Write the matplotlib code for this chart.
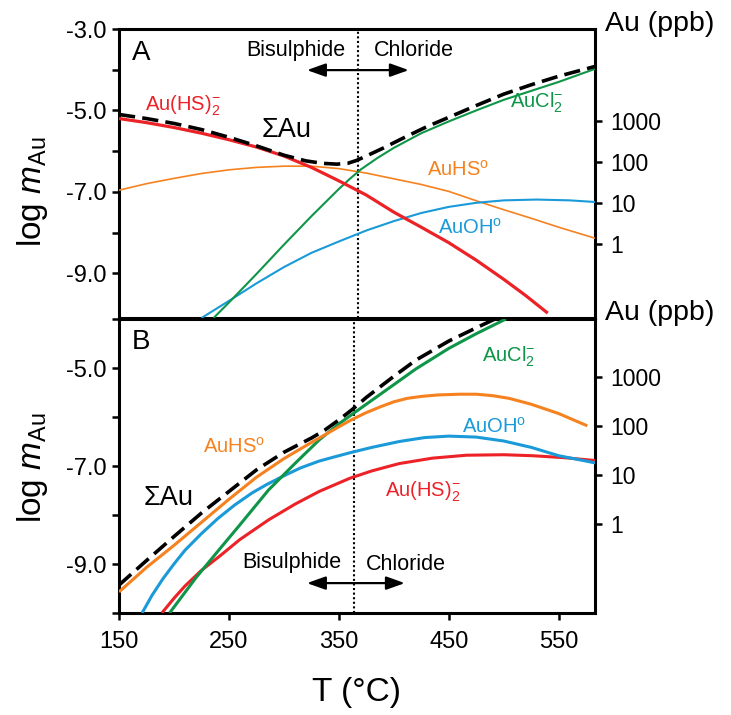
import matplotlib
matplotlib.use("Agg")
import matplotlib.pyplot as plt
import numpy as np

plt.rcParams['font.family'] = ['Liberation Sans', 'DejaVu Sans']
plt.rcParams['mathtext.fontset'] = 'custom'
plt.rcParams['mathtext.rm'] = 'Liberation Sans'
plt.rcParams['mathtext.it'] = 'Liberation Sans:italic'
plt.rcParams['mathtext.bf'] = 'Liberation Sans:bold'

# ---------------- Data ----------------
# Panel A
TA_red = [150, 175, 200, 225, 250, 275, 300, 325, 350, 375, 400, 425, 450, 475, 500, 520, 540]
A_red = [-5.2, -5.3, -5.42, -5.56, -5.72, -5.9, -6.12, -6.4, -6.73, -7.08, -7.5, -7.87, -8.25, -8.68, -9.15, -9.55, -9.98]

TA_orange = [150, 175, 200, 225, 250, 275, 300, 325, 350, 375, 400, 425, 450, 475, 500, 525, 550, 583]
A_orange = [-6.96, -6.8, -6.67, -6.55, -6.46, -6.4, -6.37, -6.37, -6.43, -6.54, -6.68, -6.82, -6.99, -7.22, -7.44, -7.65, -7.87, -8.14]

TA_green = [236, 250, 275, 300, 325, 350, 360, 370, 385, 400, 425, 450, 475, 500, 525, 550, 583]
A_green = [-10.1, -9.72, -9.02, -8.3, -7.6, -6.93, -6.68, -6.45, -6.17, -5.92, -5.56, -5.27, -5.0, -4.74, -4.52, -4.3, -3.98]

TA_blue = [225, 250, 275, 300, 325, 350, 375, 400, 425, 450, 475, 500, 530, 560, 583]
A_blue = [-10.1, -9.68, -9.25, -8.85, -8.5, -8.22, -7.95, -7.72, -7.52, -7.37, -7.27, -7.21, -7.19, -7.21, -7.25]

TA_sum = [150, 175, 200, 225, 250, 275, 300, 320, 335, 348, 358, 366, 375, 390, 410, 430, 450, 475, 500, 525, 550, 583]
A_sum = [-5.1, -5.2, -5.32, -5.47, -5.66, -5.87, -6.1, -6.24, -6.3, -6.32, -6.3, -6.23, -6.12, -5.93, -5.66, -5.4, -5.17, -4.88, -4.6, -4.37, -4.16, -3.92]

# Panel B
TB_orange = [150, 175, 200, 225, 250, 275, 300, 325, 350, 362, 375, 388, 400, 412, 425, 440, 460, 475, 490, 505, 525, 550, 576]
B_orange = [-9.57, -9.07, -8.62, -8.15, -7.68, -7.23, -6.85, -6.52, -6.2, -6.05, -5.91, -5.79, -5.69, -5.62, -5.58, -5.55, -5.535, -5.535, -5.565, -5.62, -5.74, -5.93, -6.18]

TB_sum = [150, 175, 200, 225, 250, 275, 300, 312, 325, 337, 350, 362, 375, 400, 420, 450, 475, 492]
B_sum = [-9.43, -8.93, -8.44, -7.96, -7.52, -7.08, -6.72, -6.58, -6.43, -6.27, -6.06, -5.85, -5.6, -5.17, -4.84, -4.45, -4.18, -4.0]

TB_green = [196, 220, 241, 260, 286, 310, 332, 350, 368, 395, 420, 450, 475, 502]
B_green = [-10.0, -9.28, -8.71, -8.2, -7.49, -6.95, -6.47, -6.14, -5.85, -5.42, -5.02, -4.6, -4.3, -4.0]

TB_blue = [171, 180, 190, 200, 210, 225, 240, 255, 271, 285, 300, 315, 332, 345, 360, 380, 405, 428, 450, 475, 500, 525, 550, 584]
B_blue = [-10.0, -9.64, -9.3, -9.0, -8.72, -8.38, -8.07, -7.8, -7.55, -7.37, -7.2, -7.04, -6.9, -6.82, -6.73, -6.62, -6.5, -6.42, -6.39, -6.41, -6.49, -6.62, -6.79, -6.94]

TB_red = [189, 200, 210, 225, 241, 260, 286, 310, 332, 360, 380, 405, 435, 466, 500, 526, 555, 584]
B_red = [-10.0, -9.7, -9.45, -9.13, -8.85, -8.5, -8.1, -7.78, -7.52, -7.25, -7.1, -6.95, -6.84, -6.78, -6.77, -6.79, -6.83, -6.89]

x_ticks = [150, 250, 350, 450, 550]
ppb_ticks = [1000, 100, 10, 1]
ppb_labels = ['1000', '100', '10', '1']
boundary_A = 367
boundary_B = 363.5

# ---------------- Style ----------------
RED = '#EC2227'
ORANGE = '#F6821F'
GREEN = '#0E9548'
BLUE = '#1A9AD8'
SPW = 2.2

fig = plt.figure(figsize=(7.31, 7.15), dpi=100)
W, H = 731, 715
axA = fig.add_axes([119 / W, 1 - 318 / H, 476 / W, 289 / H])
axB = fig.add_axes([119 / W, 1 - 613 / H, 476 / W, 294 / H])

def style_axes(ax, ylim, yticks, ppb_offset, show_x):
    ax.set_xlim(150, 583)
    ax.set_ylim(*ylim)
    for s in ax.spines.values():
        s.set_linewidth(SPW)
    ax.set_yticks(yticks)
    ax.set_yticklabels([('%.1f' % v) if (int(round(v)) % 2 != 0) else '' for v in yticks])
    ax.tick_params(axis='y', direction='out', length=5, width=1.8, labelsize=17, pad=4)
    if show_x:
        ax.set_xticks(x_ticks)
        ax.set_xticklabels([str(v) for v in x_ticks])
        ax.tick_params(axis='x', direction='out', length=5, width=1.8, labelsize=17, pad=8)
    else:
        ax.set_xticks([])
    tw = ax.twinx()
    tw.set_ylim(*ylim)
    tw.set_yticks([np.log10(v) + ppb_offset for v in ppb_ticks])
    tw.set_yticklabels(ppb_labels)
    tw.tick_params(axis='y', direction='out', length=5, width=1.8, labelsize=16.5, pad=6)
    for s in tw.spines.values():
        s.set_visible(False)

style_axes(axA, (-10.1, -3.0), [-9, -8, -7, -6, -5, -4, -3], -8.27, False)
style_axes(axB, (-10.0, -4.0), [-10, -9, -8, -7, -6, -5, -4], -8.18, True)

kw = dict(solid_joinstyle='round', solid_capstyle='butt')
# Panel A curves
axA.plot(TA_orange, A_orange, color=ORANGE, lw=1.2, zorder=3, **kw)
axA.plot(TA_blue, A_blue, color=BLUE, lw=1.5, zorder=3, **kw)
axA.plot(TA_green, A_green, color=GREEN, lw=1.5, zorder=3, **kw)
axA.plot(TA_red, A_red, color=RED, lw=2.3, zorder=4, **kw)
axA.plot(TA_sum, A_sum, color='k', lw=2.6, dashes=(4.5, 2), zorder=5)
axA.axvline(boundary_A, color='k', lw=1.5, ls=(0, (1, 1.2)), zorder=2)

# Panel B curves
axB.plot(TB_red, B_red, color=RED, lw=2.2, zorder=3, **kw)
axB.plot(TB_blue, B_blue, color=BLUE, lw=2.2, zorder=3, **kw)
axB.plot(TB_green, B_green, color=GREEN, lw=2.2, zorder=4, **kw)
axB.plot(TB_orange, B_orange, color=ORANGE, lw=2.2, zorder=4, **kw)
axB.plot(TB_sum, B_sum, color='k', lw=2.6, dashes=(4.5, 2), zorder=5)
axB.axvline(boundary_B, color='k', lw=1.5, ls=(0, (1, 1.2)), zorder=2)

# Text labels panel A
lab = 14.5
axA.text(170, -3.59, 'A', fontsize=20, ha='center', va='center')
axA.text(311, -3.52, 'Bisulphide', fontsize=15.5, ha='center', va='center')
axA.text(418, -3.52, 'Chloride', fontsize=15.5, ha='center', va='center')
axA.annotate('', xy=(321, -4.01), xytext=(413.6, -4.01),
             arrowprops=dict(arrowstyle='<|-|>,head_length=0.7,head_width=0.25', color='k', lw=1.6,
                             shrinkA=0, shrinkB=0, mutation_scale=16))
axA.text(173.6, -4.99, r'Au(HS)$_\mathregular{2}^\mathregular{-}$', color=RED, fontsize=lab, ha='left', va='baseline')
axA.text(280, -5.66, 'ΣAu', color='k', fontsize=19.5, ha='left', va='baseline')
axA.text(505.5, -4.92, r'AuCl$_\mathregular{2}^\mathregular{-}$', color=GREEN, fontsize=lab, ha='left', va='baseline')
axA.text(430, -6.61, r'AuHS$^\mathregular{o}$', color=ORANGE, fontsize=lab, ha='left', va='baseline')
axA.text(440, -8.02, r'AuOH$^\mathregular{o}$', color=BLUE, fontsize=lab, ha='left', va='baseline')

# Text labels panel B
axB.text(170, -4.47, 'B', fontsize=20, ha='center', va='center')
axB.text(480, -4.86, r'AuCl$_\mathregular{2}^\mathregular{-}$', color=GREEN, fontsize=lab, ha='left', va='baseline')
axB.text(226, -6.73, r'AuHS$^\mathregular{o}$', color=ORANGE, fontsize=lab, ha='left', va='baseline')
axB.text(172, -7.8, 'ΣAu', color='k', fontsize=19.5, ha='left', va='baseline')
axB.text(462, -6.33, r'AuOH$^\mathregular{o}$', color=BLUE, fontsize=lab, ha='left', va='baseline')
axB.text(392, -7.63, r'Au(HS)$_\mathregular{2}^\mathregular{-}$', color=RED, fontsize=lab, ha='left', va='baseline')
axB.text(307, -8.96, 'Bisulphide', fontsize=15.5, ha='center', va='center')
axB.text(411, -9.02, 'Chloride', fontsize=15.5, ha='center', va='center')
axB.annotate('', xy=(321, -9.39), xytext=(410, -9.39),
             arrowprops=dict(arrowstyle='<|-|>,head_length=0.7,head_width=0.25', color='k', lw=1.6,
                             shrinkA=0, shrinkB=0, mutation_scale=16))

# Axis labels
ylab = r'log $\mathit{m}_\mathregular{Au}$'
fig.text(33 / W, 1 - 192 / H, ylab, rotation=90, fontsize=24, ha='center', va='center')
fig.text(33 / W, 1 - 468 / H, ylab, rotation=90, fontsize=24, ha='center', va='center')
fig.text(357 / W, 1 - 693 / H, 'T (°C)', fontsize=24, ha='center', va='center')
fig.text(660 / W, 1 - 24 / H, 'Au (ppb)', fontsize=20.5, ha='center', va='center')
fig.text(660 / W, 1 - 313 / H, 'Au (ppb)', fontsize=20.5, ha='center', va='center')

fig.savefig('out.png', dpi=100)
